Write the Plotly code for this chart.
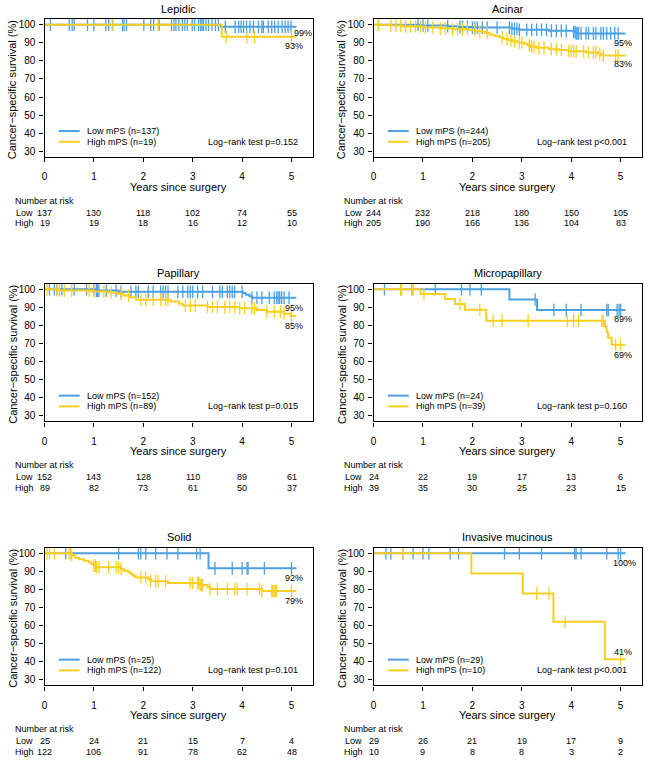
import numpy as np
import plotly.graph_objects as go

# ------------------------------------------------------------------ data
panel_titles = ["Lepidic", "Acinar", "Papillary", "Micropapillary", "Solid", "Invasive mucinous"]
pvalue_texts = ["p=0.152", "p<0.001", "p=0.015", "p=0.160", "p=0.101", "p<0.001"]
risk_times = [0, 1, 2, 3, 4, 5]
y_ticks = [30, 40, 50, 60, 70, 80, 90, 100]
follow_up_end = 5.1

# Lepidic
lep_low_risk = [137, 130, 118, 102, 74, 55]
lep_high_risk = [19, 19, 18, 16, 12, 10]
lep_low_evt_t = [3.57]
lep_low_evt_s = [98.9]
lep_high_evt_t = [3.59]
lep_high_evt_s = [93.3]
lep_low_cens = [0.12, 0.5, 0.56, 0.6, 0.87, 1.0, 1.24, 1.3, 1.38, 1.58, 1.61, 1.66, 2.01, 2.15, 2.21,
                2.32, 2.57, 2.62, 2.66, 2.72, 2.79, 2.84, 2.89, 2.99, 3.04, 3.12, 3.16, 3.19, 3.22,
                3.27, 3.32, 3.39, 3.46, 3.52, 3.66, 3.86, 3.93, 3.98, 4.03, 4.09, 4.16, 4.23, 4.33,
                4.4, 4.43, 4.53, 4.6, 4.66, 4.73, 4.81, 4.87, 4.93, 4.99]
lep_high_cens = [1.37, 2.3, 3.68, 4.1, 4.25, 5.0]

# Acinar
aci_low_risk = [244, 232, 218, 180, 150, 105]
aci_high_risk = [205, 190, 166, 136, 104, 83]
aci_low_evt_t = [0.95, 1.5, 1.7, 2.0, 2.8, 2.95, 3.55, 4.05, 4.1]
aci_low_evt_s = [99.6, 99.2, 98.8, 98.4, 97.8, 97.2, 96.6, 96.0, 95.2]
aci_high_evt_t = [0.35, 0.6, 1.0, 1.35, 1.6, 1.95, 2.1, 2.25, 2.35, 2.45, 2.55, 2.62, 2.72, 2.8,
                  2.9, 3.05, 3.12, 3.18, 3.3, 3.55, 3.75, 3.95, 4.3, 4.55, 4.62]
aci_high_evt_s = [99.5, 99.0, 98.5, 98.0, 97.5, 97.0, 96.2, 95.5, 94.5, 93.8, 93.0, 92.2, 91.5, 90.8,
                  90.2, 89.5, 88.5, 87.8, 87.2, 86.5, 86.0, 85.3, 84.7, 84.0, 83.0]
aci_low_cens = [0.1, 0.9, 1.0, 1.1, 1.5, 1.75, 1.8, 1.9, 2.0, 2.05, 2.1, 2.2, 2.3, 2.5, 2.75, 2.8,
                2.85, 2.9, 2.95, 3.1, 3.2, 3.3, 3.4, 3.5, 3.6, 3.7, 3.8, 3.9, 4.05, 4.08, 4.1, 4.12,
                4.15, 4.2, 4.3, 4.35, 4.45, 4.5, 4.6, 4.65, 4.72, 4.8, 4.88, 4.95]
aci_high_cens = [0.1, 0.35, 0.45, 0.55, 0.65, 0.75, 0.85, 0.95, 1.05, 1.2, 1.35, 1.45, 1.6, 1.7,
                 1.8, 1.9, 2.05, 2.15, 2.3, 2.6, 2.7, 2.78, 2.85, 2.95, 3.0, 3.15, 3.2, 3.25, 3.35,
                 3.45, 3.6, 3.7, 3.8, 3.95, 4.0, 4.05, 4.1, 4.25, 4.35, 4.45, 4.5, 4.58, 4.65, 4.9,
                 4.95]

# Papillary
pap_low_risk = [152, 143, 128, 110, 89, 61]
pap_high_risk = [89, 82, 73, 61, 50, 37]
pap_low_evt_t = [1.05, 1.5, 4.02, 4.08, 4.15, 4.2]
pap_low_evt_s = [99.3, 98.6, 97.8, 97.0, 96.2, 95.4]
pap_high_evt_t = [0.3, 0.95, 1.3, 1.45, 1.6, 1.72, 1.85, 2.55, 2.72, 2.8, 3.3, 3.95, 4.3, 4.5,
                  4.85, 4.98]
pap_high_evt_s = [99.3, 98.8, 98.2, 97.5, 96.6, 95.6, 94.2, 93.3, 92.0, 91.0, 90.2, 89.5, 88.5,
                  87.6, 86.5, 85.2]
pap_low_cens = [0.1, 0.2, 0.25, 0.35, 0.6, 0.85, 1.0, 1.05, 1.07, 1.1, 1.25, 1.45, 1.55, 1.75,
                1.85, 1.9, 2.1, 2.2, 2.35, 2.4, 2.45, 2.5, 2.7, 2.8, 2.9, 2.95, 3.0, 3.1, 3.2, 3.4,
                3.55, 3.6, 3.7, 3.75, 3.8, 3.85, 4.0, 4.2, 4.3, 4.4, 4.55, 4.65, 4.7, 4.73, 4.76,
                4.8, 4.85, 4.95]
pap_high_cens = [0.05, 0.25, 0.3, 0.4, 0.55, 0.9, 1.0, 1.2, 1.35, 1.55, 1.7, 1.95, 2.05, 2.2, 2.35,
                 2.45, 2.5, 2.85, 2.95, 3.05, 3.3, 3.4, 3.5, 3.65, 3.75, 3.85, 3.95, 4.05, 4.2,
                 4.25, 4.5, 4.65, 4.78, 4.85, 5.0]

# Micropapillary
mic_low_risk = [24, 22, 19, 17, 13, 6]
mic_high_risk = [39, 35, 30, 25, 23, 15]
mic_low_evt_t = [2.75, 3.31]
mic_low_evt_s = [94.4, 88.6]
mic_high_evt_t = [0.95, 1.45, 1.65, 1.85, 2.28, 4.68, 4.72, 4.75, 4.82]
mic_high_evt_s = [97.4, 94.7, 91.9, 88.7, 82.6, 79.5, 76.3, 73.2, 69.4]
mic_low_cens = [0.22, 0.55, 0.78, 1.25, 1.78, 1.95, 2.18, 3.27, 3.65, 3.9, 4.2, 4.72, 4.75, 4.93,
                4.97, 5.0]
mic_high_cens = [0.55, 0.57, 0.78, 0.8, 1.02, 1.75, 2.15, 2.42, 2.6, 3.13, 3.92, 4.05, 4.15, 4.62,
                 4.65, 4.9, 5.0]

# Solid
sol_low_risk = [25, 24, 21, 15, 7, 4]
sol_high_risk = [122, 106, 91, 78, 62, 48]
sol_low_evt_t = [3.32]
sol_low_evt_s = [91.7]
sol_high_evt_t = [0.55, 0.6, 0.62, 0.7, 0.8, 0.9, 0.95, 1.0, 1.05, 1.55, 1.6, 1.7, 1.75, 1.8, 1.85,
                  2.1, 2.15, 2.5, 3.15, 3.3, 3.35, 4.4]
sol_high_evt_s = [99.2, 98.4, 97.5, 96.7, 95.9, 95.0, 94.1, 93.2, 92.3, 91.4, 90.4, 89.4, 88.4,
                  87.4, 86.6, 85.6, 84.6, 83.6, 82.5, 81.3, 80.3, 79.2]
sol_low_cens = [0.43, 1.5, 1.9, 1.95, 2.05, 2.25, 2.48, 2.7, 3.08, 3.15, 3.45, 3.8, 4.0, 4.1, 4.12,
                4.45, 5.0]
sol_high_cens = [0.05, 0.1, 0.2, 0.5, 0.52, 0.55, 1.0, 1.03, 1.05, 1.1, 1.3, 1.45, 1.5, 1.55, 1.95,
                 2.05, 2.15, 2.25, 2.3, 2.45, 2.95, 3.0, 3.1, 3.12, 3.15, 3.18, 3.2, 3.35, 3.5, 3.7,
                 3.85, 3.9, 4.1, 4.35, 4.4, 4.6, 4.62, 4.65, 4.68, 4.7, 5.0]

# Invasive mucinous
muc_low_risk = [29, 26, 21, 19, 17, 9]
muc_high_risk = [10, 9, 8, 8, 3, 2]
muc_low_evt_t = []
muc_low_evt_s = []
muc_high_evt_t = [1.98, 3.02, 3.64, 4.68]
muc_high_evt_s = [88.9, 77.8, 62.2, 41.4]
muc_low_cens = [0.25, 0.35, 0.6, 0.8, 1.0, 1.12, 1.55, 1.72, 2.65, 2.95, 3.4, 4.07, 4.1, 4.2, 4.72,
                4.95, 5.0]
muc_high_cens = [0.6, 3.3, 3.55, 3.88, 5.0]

panels = [
    (lep_low_risk, lep_high_risk, lep_low_evt_t, lep_low_evt_s, lep_high_evt_t, lep_high_evt_s, lep_low_cens, lep_high_cens),
    (aci_low_risk, aci_high_risk, aci_low_evt_t, aci_low_evt_s, aci_high_evt_t, aci_high_evt_s, aci_low_cens, aci_high_cens),
    (pap_low_risk, pap_high_risk, pap_low_evt_t, pap_low_evt_s, pap_high_evt_t, pap_high_evt_s, pap_low_cens, pap_high_cens),
    (mic_low_risk, mic_high_risk, mic_low_evt_t, mic_low_evt_s, mic_high_evt_t, mic_high_evt_s, mic_low_cens, mic_high_cens),
    (sol_low_risk, sol_high_risk, sol_low_evt_t, sol_low_evt_s, sol_high_evt_t, sol_high_evt_s, sol_low_cens, sol_high_cens),
    (muc_low_risk, muc_high_risk, muc_low_evt_t, muc_low_evt_s, muc_high_evt_t, muc_high_evt_s, muc_low_cens, muc_high_cens),
]

# ------------------------------------------------------------------ style / layout
W, H = 648, 760
COL_LEFT = [41.7, 372.3]
PLOT_W = 270.0
ROW_TOP = [19.1, 283.7, 547.7]
PLOT_H = 137.7
XR = [0, 5.44]
YR = [27, 103.1]
BLUE = "#4c9fe4"
YELLOW = "#f9cf1f"
FONT = "Arial, Liberation Sans, sans-serif"
# end-label placement per panel: (x in data units, pixel shift) for low / high
pct_pos_low = [(5.23, -6), (5.05, -10), (5.05, -10), (5.05, -9), (5.05, -10), (5.08, -10)]
pct_pos_high = [(5.05, -9), (5.05, -9), (5.05, -10), (5.05, -10), (5.05, -10), (5.05, 7)]


def step_xy(evt_t, evt_s):
    xs = [0.0] + list(evt_t) + [follow_up_end]
    ys = [100.0] + list(evt_s) + [evt_s[-1] if len(evt_s) else 100.0]
    return xs, ys


def surv_at(times, evt_t, evt_s):
    et = np.asarray(evt_t, dtype=float)
    es = np.concatenate([[100.0], np.asarray(evt_s, dtype=float)])
    idx = np.searchsorted(et, np.asarray(times, dtype=float), side="right")
    return es[idx]


fig = go.Figure()
annotations = []
shapes = []

for i, (lr, hr, lt, ls, ht, hs, lc, hc) in enumerate(panels):
    r, c = divmod(i, 2)
    ax = "" if i == 0 else str(i + 1)
    xn, yn = "x" + ax, "y" + ax
    left = COL_LEFT[c]
    top = ROW_TOP[r]
    bottom = top + PLOT_H
    cx = left + PLOT_W / 2

    def py(px):
        return 1 - px / H

    def pxx(px):
        return px / W

    axis_common = dict(showline=True, mirror=True, linecolor="black", linewidth=1.3,
                       ticks="outside", ticklen=4, tickwidth=1.2, tickcolor="black",
                       showgrid=False, zeroline=False,
                       tickfont=dict(family=FONT, size=10, color="black"))
    fig.update_layout({
        "xaxis" + ax: dict(domain=[pxx(left), pxx(left + PLOT_W)], range=XR, anchor=yn,
                           tickvals=risk_times, ticklabelstandoff=6, **axis_common),
        "yaxis" + ax: dict(domain=[py(bottom), py(top)], range=YR, anchor=xn,
                           tickvals=y_ticks, ticklabelstandoff=2, **axis_common),
    })

    for evt_t, evt_s, cens, col in ((lt, ls, lc, BLUE), (ht, hs, hc, YELLOW)):
        xs, ys = step_xy(evt_t, evt_s)
        fig.add_trace(go.Scatter(x=xs, y=ys, mode="lines", line=dict(color=col, width=2, shape="hv"),
                                 xaxis=xn, yaxis=yn, showlegend=False, hoverinfo="skip"))
        fig.add_trace(go.Scatter(x=cens, y=surv_at(cens, evt_t, evt_s), mode="markers",
                                 marker=dict(symbol="line-ns", size=9, color=col,
                                             line=dict(color=col, width=1.3)),
                                 xaxis=xn, yaxis=yn, showlegend=False, hoverinfo="skip"))

    # final survival labels
    for (px_, dy), evt_s in ((pct_pos_low[i], ls), (pct_pos_high[i], hs)):
        final = evt_s[-1] if len(evt_s) else 100.0
        annotations.append(dict(x=px_, y=final, xref=xn, yref=yn, text=f"{round(final)}%",
                                showarrow=False, yshift=dy, font=dict(family=FONT, size=9, color="black")))

    # title
    annotations.append(dict(x=pxx(cx), y=py(top - 10.5), xref="paper", yref="paper", text=panel_titles[i],
                            showarrow=False, xanchor="center", yanchor="middle",
                            font=dict(family=FONT, size=11, color="black")))
    # y title
    annotations.append(dict(x=pxx(left - 32.4), y=py(top + PLOT_H / 2 + 2), xref="paper", yref="paper",
                            text="Cancer\u2212specific survival (%)", textangle=-90, showarrow=False,
                            xanchor="center", yanchor="middle", font=dict(family=FONT, size=11, color="black")))
    # x title
    annotations.append(dict(x=pxx(cx), y=py(bottom + 30), xref="paper", yref="paper", text="Years since surgery",
                            showarrow=False, xanchor="center", yanchor="middle",
                            font=dict(family=FONT, size=11, color="black")))
    # risk table
    annotations.append(dict(x=pxx(left - 31.7), y=py(bottom + 44), xref="paper", yref="paper",
                            text="Number at risk", showarrow=False, xanchor="left", yanchor="middle",
                            font=dict(family=FONT, size=9, color="black")))
    for lab, row_vals, dy, dxl in (("Low", lr, 56, -30.7), ("High", hr, 66.5, -31.7)):
        annotations.append(dict(x=pxx(left + dxl), y=py(bottom + dy), xref="paper", yref="paper",
                                text=lab, showarrow=False, xanchor="left", yanchor="middle",
                                font=dict(family=FONT, size=9, color="black")))
        for t, v in zip(risk_times, row_vals):
            annotations.append(dict(x=t, y=py(bottom + dy), xref=xn, yref="paper", text=str(v),
                                    showarrow=False, xanchor="center", yanchor="middle",
                                    font=dict(family=FONT, size=9, color="black")))

    # legend (drawn)
    for lab, n, col, fy in (("Low mPS", lr[0], BLUE, 0.187), ("High mPS", hr[0], YELLOW, 0.109)):
        shapes.append(dict(type="line", xref=xn + " domain", yref=yn + " domain",
                           x0=0.053, x1=0.131, y0=fy, y1=fy, line=dict(color=col, width=2)))
        annotations.append(dict(x=0.152, y=fy, xref=xn + " domain", yref=yn + " domain",
                                text=f"{lab} (n={n})", showarrow=False, xanchor="left", yanchor="middle",
                                font=dict(family=FONT, size=9, color="black")))
    annotations.append(dict(x=0.952, y=0.109, xref=xn + " domain", yref=yn + " domain",
                            text="Log\u2212rank test " + pvalue_texts[i], showarrow=False,
                            xanchor="right", yanchor="middle", font=dict(family=FONT, size=9, color="black")))

fig.update_layout(width=W, height=H, margin=dict(l=0, r=0, t=0, b=0),
                  paper_bgcolor="white", plot_bgcolor="white",
                  annotations=annotations, shapes=shapes, showlegend=False)

fig.write_html("out.html", config={"displayModeBar": False},
               post_script="document.body.style.margin='0px';document.body.style.overflow='hidden';")
